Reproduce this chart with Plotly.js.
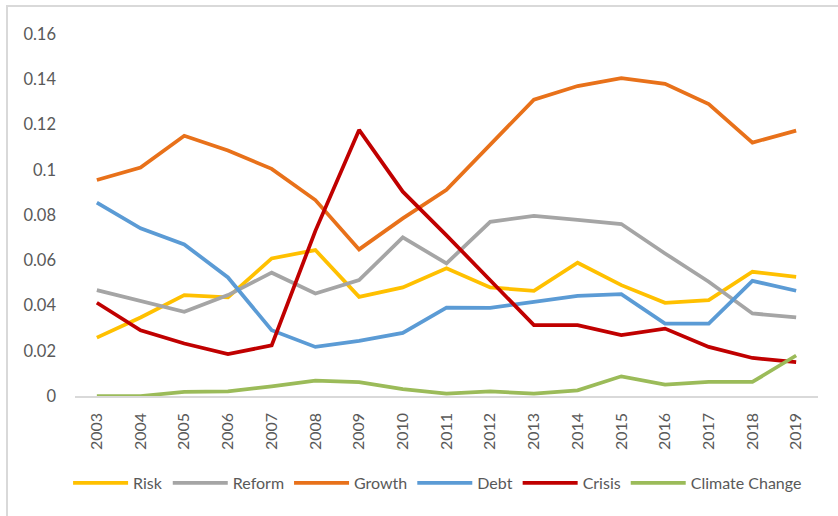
<!DOCTYPE html>
<html>
<head>
<meta charset="utf-8">
<script src="https://cdn.plot.ly/plotly-3.0.1.min.js"></script>
<style>
  html, body { margin: 0; padding: 0; background: #fff; overflow: hidden; }
  #wrap { position: relative; width: 838px; height: 516px; }
  #chart { position: absolute; left: 0; top: 0; width: 838px; height: 516px; }
  #frame { position: absolute; left: 6px; top: 5px; width: 840px; height: 520px;
           border: 2px solid #d9d9d9; box-sizing: border-box; pointer-events: none; }
</style>
</head>
<body>
<div id="wrap">
  <div id="chart"></div>
  <div id="frame"></div>
</div>
<script>
const years = ["2003","2004","2005","2006","2007","2008","2009","2010","2011","2012","2013","2014","2015","2016","2017","2018","2019"];
const risk =    [0.0258,0.0347,0.0446,0.0436,0.0608,0.0645,0.0438,0.0480,0.0564,0.0480,0.0465,0.0589,0.0490,0.0412,0.0424,0.0549,0.0527];
const reform =  [0.0468,0.0420,0.0372,0.0446,0.0545,0.0453,0.0512,0.0701,0.0586,0.0770,0.0796,0.0778,0.0760,0.0630,0.0505,0.0365,0.0347];
const growth =  [0.0955,0.1010,0.1150,0.1085,0.1004,0.0866,0.0648,0.0785,0.0911,0.1113,0.1310,0.1370,0.1405,0.1380,0.1290,0.1120,0.1173];
const debt =    [0.0855,0.0741,0.0670,0.0524,0.0291,0.0217,0.0244,0.0279,0.0391,0.0390,0.0416,0.0443,0.0450,0.0320,0.0320,0.0509,0.0465];
const crisis =  [0.0412,0.0290,0.0232,0.0185,0.0224,0.0730,0.1176,0.0903,0.0710,0.0512,0.0313,0.0313,0.0269,0.0298,0.0217,0.0168,0.0150];
const climate = [0.0000,0.0000,0.0018,0.0020,0.0043,0.0068,0.0061,0.0030,0.0011,0.0020,0.0011,0.0025,0.0087,0.0050,0.0062,0.0062,0.0179];

const seriesNames = ["Risk","Reform","Growth","Debt","Crisis","Climate Change"];
const seriesData = [risk, reform, growth, debt, crisis, climate];
const seriesColors = ["#FFC000","#A5A5A5","#E8711A","#5B9BD5","#C00000","#9BBB59"];

const yTickVals = [0,0.02,0.04,0.06,0.08,0.1,0.12,0.14,0.16];
const yTickText = ["0","0.02","0.04","0.06","0.08","0.1","0.12","0.14","0.16"];

const FONT = "Lato, 'Open Sans', sans-serif";
const traces = seriesNames.map((n,i) => ({
  type: "scatter", mode: "lines", name: n,
  x: years, y: seriesData[i],
  line: { color: seriesColors[i], width: 3.75, shape: "linear" },
  hoverinfo: "skip"
}));

const layout = {
  width: 838, height: 516,
  margin: { l: 75, r: 20, t: 34, b: 120, pad: 0 },
  paper_bgcolor: "#ffffff", plot_bgcolor: "#ffffff",
  font: { family: FONT, color: "#595959", size: 16 },
  showlegend: true,
  legend: {
    orientation: "h", x: 0.488, xanchor: "center", y: -0.24, yanchor: "middle",
    font: { family: FONT, size: 16, color: "#595959" },
    itemwidth: 55, tracegroupgap: 0, bgcolor: "rgba(0,0,0,0)"
  },
  xaxis: {
    type: "category", range: [-0.5, 16.5], tickangle: -90, showgrid: false, zeroline: false,
    showline: true, linecolor: "#d9d9d9", linewidth: 1.5, ticks: "",
    tickfont: { family: FONT, size: 16, color: "#595959" },
    ticklabelstandoff: 9, fixedrange: true
  },
  yaxis: {
    range: [0, 0.16], tickvals: yTickVals, ticktext: yTickText,
    showgrid: false, zeroline: false, showline: false, ticks: "",
    tickfont: { family: FONT, size: 16.5, color: "#595959" },
    ticklabelstandoff: 18, fixedrange: true
  }
};

Plotly.newPlot("chart", traces, layout, { displayModeBar: false, staticPlot: true });
</script>
</body>
</html>
